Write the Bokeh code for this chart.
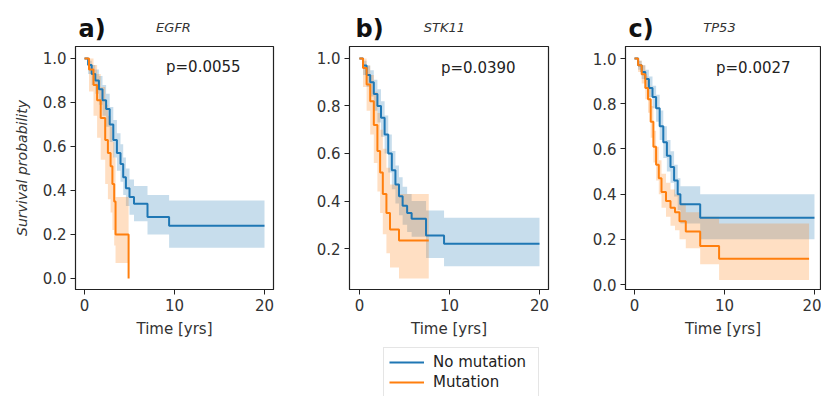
from bokeh.plotting import figure
from bokeh.layouts import row, column
from bokeh.models import Range1d, FixedTicker, PrintfTickFormatter, Label, Legend, LegendItem
from bokeh.embed import file_html
from bokeh.resources import INLINE

BLUE = "#1f77b4"
ORANGE = "#ff7f0e"
FONT = "DejaVu Sans"

# ---------------- data ----------------
panel_letters = ["a)", "b)", "c)"]
genes = ["EGFR", "STK11", "TP53"]
pvalues = ["p=0.0055", "p=0.0390", "p=0.0027"]
legend_labels = ["No mutation", "Mutation"]
x_ticks = [0, 10, 20]

# Panel a (EGFR)
a_no_t = [0, 0.4, 0.8, 1.2, 1.6, 2.0, 2.4, 2.8, 3.2, 3.6, 4.0, 4.3, 4.6, 5.0, 5.5, 7.0, 9.4, 20.0]
a_no_s = [1.0, 0.97, 0.93, 0.90, 0.86, 0.81, 0.77, 0.70, 0.63, 0.57, 0.52, 0.46, 0.41, 0.37, 0.34, 0.28, 0.24, 0.24]
a_no_lo = [1.0, 0.93, 0.88, 0.84, 0.79, 0.74, 0.69, 0.62, 0.55, 0.49, 0.44, 0.38, 0.33, 0.29, 0.26, 0.20, 0.14, 0.14]
a_no_hi = [1.0, 0.99, 0.97, 0.95, 0.92, 0.88, 0.84, 0.78, 0.72, 0.66, 0.61, 0.55, 0.50, 0.45, 0.42, 0.38, 0.355, 0.355]
a_mu_t = [0, 0.5, 1.0, 1.4, 1.8, 2.3, 2.6, 2.9, 3.1, 3.3, 3.45, 4.9]
a_mu_s = [1.0, 0.95, 0.88, 0.81, 0.73, 0.63, 0.57, 0.51, 0.43, 0.35, 0.20, 0.0]
a_mu_lo = [1.0, 0.85, 0.74, 0.64, 0.54, 0.43, 0.36, 0.30, 0.22, 0.15, 0.07, 0.07]
a_mu_hi = [1.0, 1.0, 0.97, 0.93, 0.87, 0.79, 0.74, 0.69, 0.62, 0.55, 0.37, 0.37]

# Panel b (STK11)
b_no_t = [0, 0.4, 0.8, 1.2, 1.6, 2.0, 2.4, 2.8, 3.2, 3.6, 4.0, 4.4, 4.8, 5.3, 5.8, 7.4, 9.4, 20.0]
b_no_s = [1.0, 0.97, 0.93, 0.90, 0.85, 0.80, 0.75, 0.68, 0.60, 0.53, 0.47, 0.42, 0.38, 0.35, 0.325, 0.255, 0.22, 0.22]
b_no_lo = [1.0, 0.93, 0.88, 0.84, 0.78, 0.73, 0.67, 0.60, 0.52, 0.45, 0.39, 0.34, 0.30, 0.27, 0.25, 0.16, 0.125, 0.125]
b_no_hi = [1.0, 0.99, 0.97, 0.95, 0.91, 0.87, 0.82, 0.76, 0.68, 0.61, 0.55, 0.50, 0.46, 0.43, 0.40, 0.36, 0.33, 0.33]
b_mu_t = [0, 0.4, 0.8, 1.2, 1.6, 2.0, 2.3, 2.6, 3.0, 3.4, 4.4, 7.7]
b_mu_s = [1.0, 0.96, 0.89, 0.82, 0.72, 0.61, 0.52, 0.43, 0.35, 0.28, 0.234, 0.234]
b_mu_lo = [1.0, 0.88, 0.78, 0.68, 0.56, 0.44, 0.35, 0.26, 0.18, 0.12, 0.074, 0.074]
b_mu_hi = [1.0, 1.0, 0.97, 0.93, 0.86, 0.77, 0.70, 0.62, 0.54, 0.47, 0.43, 0.43]

# Panel c (TP53)
c_no_t = [0, 0.4, 0.8, 1.2, 1.6, 2.0, 2.4, 2.8, 3.2, 3.6, 4.0, 4.4, 4.8, 5.1, 7.3, 20.0]
c_no_s = [1.0, 0.97, 0.94, 0.91, 0.87, 0.83, 0.78, 0.70, 0.63, 0.57, 0.52, 0.46, 0.40, 0.355, 0.295, 0.295]
c_no_lo = [1.0, 0.95, 0.91, 0.87, 0.83, 0.78, 0.72, 0.64, 0.56, 0.50, 0.45, 0.39, 0.33, 0.27, 0.20, 0.20]
c_no_hi = [1.0, 0.99, 0.97, 0.95, 0.92, 0.88, 0.84, 0.77, 0.70, 0.64, 0.59, 0.53, 0.47, 0.435, 0.40, 0.40]
c_mu_t = [0, 0.4, 0.8, 1.2, 1.5, 1.8, 2.1, 2.4, 2.7, 3.0, 3.5, 4.0, 4.5, 5.0, 5.7, 7.3, 9.4, 19.4]
c_mu_s = [1.0, 0.97, 0.93, 0.87, 0.82, 0.72, 0.61, 0.53, 0.47, 0.41, 0.37, 0.34, 0.32, 0.28, 0.235, 0.17, 0.114, 0.114]
c_mu_lo = [1.0, 0.94, 0.89, 0.82, 0.76, 0.65, 0.54, 0.46, 0.40, 0.34, 0.30, 0.26, 0.24, 0.20, 0.16, 0.09, 0.02, 0.02]
c_mu_hi = [1.0, 0.99, 0.97, 0.92, 0.88, 0.79, 0.68, 0.61, 0.55, 0.49, 0.45, 0.42, 0.40, 0.36, 0.32, 0.30, 0.27, 0.27]

panels = [
    dict(no=(a_no_t, a_no_s, a_no_lo, a_no_hi), mu=(a_mu_t, a_mu_s, a_mu_lo, a_mu_hi),
         yticks=[0.0, 0.2, 0.4, 0.6, 0.8, 1.0]),
    dict(no=(b_no_t, b_no_s, b_no_lo, b_no_hi), mu=(b_mu_t, b_mu_s, b_mu_lo, b_mu_hi),
         yticks=[0.2, 0.4, 0.6, 0.8, 1.0]),
    dict(no=(c_no_t, c_no_s, c_no_lo, c_no_hi), mu=(c_mu_t, c_mu_s, c_mu_lo, c_mu_hi),
         yticks=[0.0, 0.2, 0.4, 0.6, 0.8, 1.0]),
]

# ---------------- layout ----------------
W = 821
HEAD = 45          # header strip with panel letters / gene names
FOOT = 52          # footer strip with the legend
PLOT_H = 396 - HEAD - FOOT   # 299: frame (243) + top 1 + bottom 55
FRAME_H = 243

geom = [
    dict(w=275, bl=75, br=2, xr=(-1.0, 21.0), yr=(-0.05, 1.0545)),
    dict(w=275, bl=74, br=2, xr=(-1.1, 21.0), yr=(0.0274, 1.0505)),
    dict(w=271, bl=75, br=1, xr=(-1.0, 20.67), yr=(-0.022, 1.0533)),
]
letter_px = [78, 355, 628]       # left edge of "a)", "b)", "c)" in page px
gene_px = [173, 444, 719]        # centre of gene names in page px


def blank(width, height):
    f = figure(width=width, height=height, output_backend="svg", toolbar_location=None,
               x_axis_type=None, y_axis_type=None,
               x_range=Range1d(0, width), y_range=Range1d(0, height),
               min_border=0, min_border_left=0, min_border_right=0,
               min_border_top=0, min_border_bottom=0)
    f.grid.visible = False
    f.outline_line_color = None
    f.background_fill_color = "white"
    f.border_fill_color = "white"
    return f


# header
head = blank(W, HEAD)
for i in range(3):
    head.add_layout(Label(x=letter_px[i], y=HEAD - 28, x_units="screen", y_units="screen",
                          text=panel_letters[i], text_font=FONT,
                          text_font_size="24px", text_font_style="bold", text_color="#111111",
                          text_align="left", text_baseline="middle"))
    head.add_layout(Label(x=gene_px[i], y=HEAD - 27, x_units="screen", y_units="screen",
                          text=genes[i], text_font=FONT,
                          text_font_size="13px", text_font_style="italic", text_color="#333333",
                          text_align="center", text_baseline="middle"))

figs = []
for i, (pd_, g) in enumerate(zip(panels, geom)):
    p = figure(width=g["w"], height=PLOT_H, output_backend="svg", toolbar_location=None,
               x_range=Range1d(*g["xr"]), y_range=Range1d(*g["yr"]),
               min_border_left=g["bl"], min_border_right=g["br"],
               min_border_top=1, min_border_bottom=PLOT_H - FRAME_H - 1)
    p.grid.visible = False
    p.outline_line_color = "#222222"
    p.outline_line_width = 1.2
    p.background_fill_color = "white"
    p.border_fill_color = "white"

    for key, col in (("no", BLUE), ("mu", ORANGE)):
        t, s, lo, hi = pd_[key]
        p.varea_step(x=t, y1=lo, y2=hi, step_mode="after", fill_color=col, fill_alpha=0.25)
    for key, col in (("no", BLUE), ("mu", ORANGE)):
        t, s, lo, hi = pd_[key]
        p.step(x=t, y=s, mode="after", line_color=col, line_width=2)

    for ax in (p.xaxis[0], p.yaxis[0]):
        ax.axis_line_color = "#222222"
        ax.major_tick_line_color = "#222222"
        ax.major_tick_out = 5
        ax.major_tick_in = 0
        ax.minor_tick_line_color = None
        ax.major_label_text_font = FONT
        ax.major_label_text_font_size = "15px"
        ax.major_label_text_color = "#333333"
        ax.major_label_standoff = 4
        ax.axis_label_text_font = FONT
        ax.axis_label_text_font_size = "15px"
        ax.axis_label_text_color = "#333333"
        ax.axis_label_text_font_style = "normal"
    p.xaxis.ticker = FixedTicker(ticks=x_ticks)
    p.yaxis.ticker = FixedTicker(ticks=pd_["yticks"])
    p.yaxis.formatter = PrintfTickFormatter(format="%.1f")
    p.xaxis.axis_label = "Time [yrs]"
    p.xaxis.axis_label_standoff = 6
    if i == 0:
        p.yaxis.axis_label = "Survival probability"
        p.yaxis.axis_label_text_font_style = "italic"
        p.yaxis.axis_label_text_font_size = "14px"
        p.yaxis.axis_label_standoff = 10

    p.add_layout(Label(x=13.2, y=0.96, text=pvalues[i], text_font=FONT,
                       text_font_size="15px", text_color="#222222",
                       text_align="center", text_baseline="middle"))
    figs.append(p)

# footer with legend (under panel b); swatch renderers lie outside the visible range
foot = blank(W, FOOT)
r_no = foot.line(x=[-20, -10], y=[-20, -20], line_color=BLUE, line_width=2)
r_mu = foot.line(x=[-20, -10], y=[-20, -20], line_color=ORANGE, line_width=2)
legend = Legend(items=[LegendItem(label=legend_labels[0], renderers=[r_no]),
                       LegendItem(label=legend_labels[1], renderers=[r_mu])],
                location=(383, -1), orientation="vertical",
                label_text_font=FONT, label_text_font_size="15px",
                label_text_color="#222222",
                glyph_width=35, glyph_height=18, label_height=18, label_width=100,
                label_standoff=9, spacing=2, padding=5, margin=0,
                border_line_color="#cccccc", border_line_width=1,
                background_fill_color="white", background_fill_alpha=1.0)
foot.add_layout(legend, "center")

layout = column(head, row(*figs, spacing=0), foot, spacing=0)
open("out.html", "w").write(file_html(layout, INLINE))
